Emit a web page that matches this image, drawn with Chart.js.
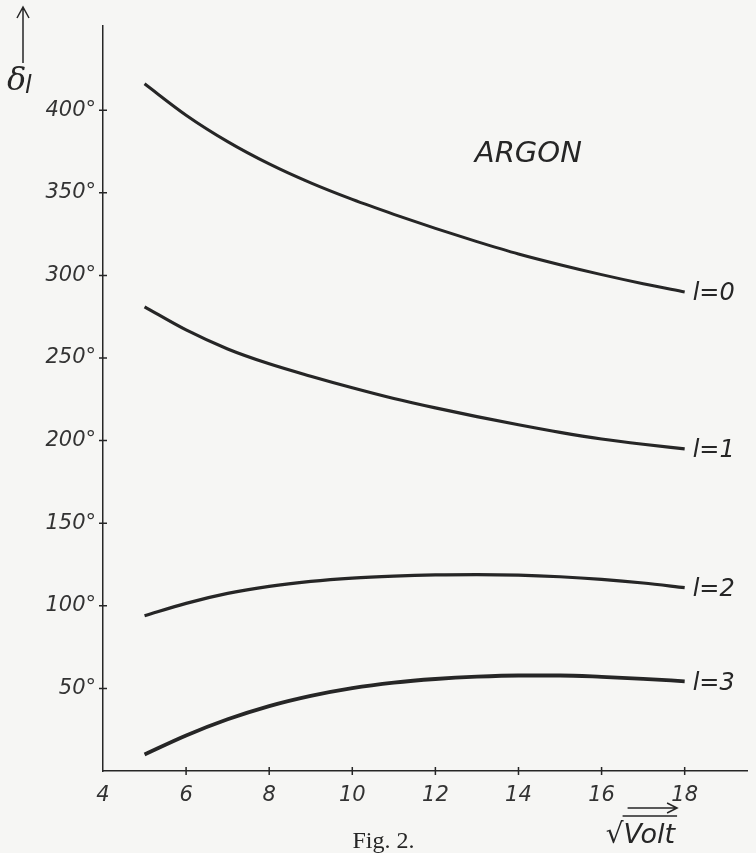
<!DOCTYPE html>
<html lang="de">
<head>
<meta charset="UTF-8">
<title>Argon</title>
<script src="https://cdn.jsdelivr.net/npm/chart.js@4.4.0/dist/chart.umd.min.js"></script>
<style>
  html, body { margin: 0; padding: 0; background: #f6f6f4; }
  #wrap { width: 756px; height: 853px; }
</style>
</head>
<body>
<div id="wrap"><canvas id="argon" width="756" height="853"></canvas></div>
<script>
// sqrt(Volt) values and phase shifts delta_l (degrees)
const xValues = [5, 6, 7, 8, 9, 10, 11, 12, 13, 14, 15, 16, 17, 18];
const delta0 = [416, 397, 381, 367.5, 356, 346, 337, 328.5, 320.5, 313, 306.5, 300.5, 295, 290];
const delta1 = [281, 267, 255.5, 246.5, 239, 232, 225.5, 219.8, 214.5, 209.6, 205, 201, 197.8, 195];
const delta2 = [94, 101.5, 107.5, 111.8, 114.8, 116.8, 118, 118.7, 118.9, 118.6, 117.6, 116, 113.8, 111];
const delta3 = [10, 21.5, 31.3, 39.3, 45.5, 50.2, 53.5, 55.7, 57.1, 57.8, 57.8, 57, 55.8, 54.3];
const curveLabels = ['l=0', 'l=1', 'l=2', 'l=3'];
const xTicks = [4, 6, 8, 10, 12, 14, 16, 18];
const yTicks = [50, 100, 150, 200, 250, 300, 350, 400];

const ink = '#262626';
const tickFont = { family: 'DejaVu Sans', style: 'italic', size: 21 };

function serie(values, width) {
  return {
    data: xValues.map((x, i) => ({ x: x, y: values[i] })),
    borderColor: ink,
    borderWidth: width,
    pointRadius: 0,
    cubicInterpolationMode: 'monotone',
    fill: false
  };
}

// axis cross ticks, curve labels and the loose texts of the figure
const deko = {
  id: 'deko',
  afterDraw(chart) {
    const c = chart.ctx;
    const a = chart.chartArea;
    const sx = chart.scales.x;
    const sy = chart.scales.y;
    c.save();
    c.strokeStyle = ink;
    c.fillStyle = ink;
    c.lineWidth = 1.5;
    c.beginPath();
    xTicks.forEach(v => {
      if (v === sx.min) return;
      const p = sx.getPixelForValue(v);
      c.moveTo(p, a.bottom - 4);
      c.lineTo(p, a.bottom + 4);
    });
    yTicks.forEach(v => {
      const p = sy.getPixelForValue(v);
      c.moveTo(a.left - 4, p);
      c.lineTo(a.left + 4, p);
    });
    c.stroke();

    // l = ... at the end of each curve
    c.font = 'italic 24px "DejaVu Sans"';
    c.textBaseline = 'middle';
    c.textAlign = 'left';
    chart.data.datasets.forEach((ds, i) => {
      const last = ds.data[ds.data.length - 1];
      c.fillText(curveLabels[i], sx.getPixelForValue(last.x) + 8, sy.getPixelForValue(last.y) + 2);
    });

    // ARGON
    c.font = 'italic 29px "DejaVu Sans"';
    c.textBaseline = 'alphabetic';
    c.fillText('ARGON', sx.getPixelForValue(12.95), sy.getPixelForValue(368.5));

    // delta_l with arrow, top left
    const ax = a.left - 80;
    c.beginPath();
    c.moveTo(ax, a.top + 37);
    c.lineTo(ax, a.top - 18);
    c.moveTo(ax - 6, a.top - 8);
    c.lineTo(ax, a.top - 19);
    c.lineTo(ax + 6, a.top - 8);
    c.stroke();
    c.font = 'italic 32px "DejaVu Serif"';
    c.fillText('δ', a.left - 96, a.top + 64);
    c.font = 'italic 24px "DejaVu Sans"';
    c.fillText('l', a.left - 78, a.top + 67);

    // sqrt(Volt) with arrow
    const vx = sx.getPixelForValue(16.1);
    const vb = a.bottom + 72;
    c.font = '28px "DejaVu Sans"';
    c.fillText('√', vx, vb);
    const rw = c.measureText('√').width;
    c.font = 'italic 27px "DejaVu Sans"';
    c.fillText('Volt', vx + rw, vb);
    const tw = c.measureText('Volt').width;
    c.beginPath();
    c.moveTo(vx + rw - 1, vb - 27);
    c.lineTo(vx + rw + tw + 2, vb - 27);
    c.moveTo(vx + rw + 4, vb - 35);
    c.lineTo(vx + rw + tw + 2, vb - 35);
    c.moveTo(vx + rw + tw - 8, vb - 40);
    c.lineTo(vx + rw + tw + 2, vb - 35);
    c.lineTo(vx + rw + tw - 8, vb - 30);
    c.stroke();

    // caption
    c.font = '24px "Liberation Serif"';
    c.textAlign = 'center';
    c.fillText('Fig. 2.', sx.getPixelForValue(10.75), a.bottom + 77);
    c.restore();
  }
};

new Chart(document.getElementById('argon'), {
  type: 'line',
  data: {
    datasets: [serie(delta0, 3), serie(delta1, 3.2), serie(delta2, 3.2), serie(delta3, 3.8)]
  },
  options: {
    responsive: false,
    animation: false,
    layout: { padding: { top: 26, right: 9, left: 0, bottom: 0 } },
    plugins: { legend: { display: false }, tooltip: { enabled: false } },
    scales: {
      x: {
        type: 'linear',
        min: 4,
        max: 19.5,
        afterBuildTicks: s => { s.ticks = xTicks.map(v => ({ value: v })); },
        afterFit: s => { s.height = 82; },
        grid: { drawOnChartArea: false, drawTicks: false },
        border: { color: ink, width: 1.5 },
        ticks: { font: tickFont, color: '#333', padding: 12, maxRotation: 0 }
      },
      y: {
        min: 0,
        max: 451,
        afterBuildTicks: s => { s.ticks = yTicks.map(v => ({ value: v })); },
        afterFit: s => { s.width = 103; },
        grid: { drawOnChartArea: false, drawTicks: false },
        border: { color: ink, width: 1.5 },
        ticks: { font: tickFont, color: '#333', padding: 7, callback: v => v + '°' }
      }
    }
  },
  plugins: [deko]
});
</script>
</body>
</html>
